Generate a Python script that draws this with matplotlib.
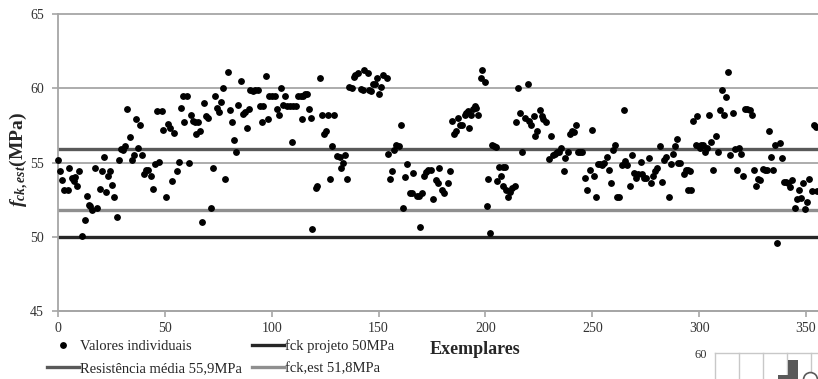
import matplotlib
matplotlib.use("Agg")
import matplotlib.pyplot as plt
from matplotlib.lines import Line2D

plt.rcParams['font.family'] = ['Liberation Serif', 'DejaVu Serif']
plt.rcParams['mathtext.fontset'] = 'custom'
plt.rcParams['mathtext.it'] = 'Liberation Serif:italic:bold'
plt.rcParams['mathtext.rm'] = 'Liberation Serif:bold'
plt.rcParams['mathtext.bf'] = 'Liberation Serif:bold'

# ---------------- data ----------------
exemplar = [
    0.2, 1.1, 2.0, 3.0, 4.5, 5.3, 6.4, 7.2, 7.6, 8.0,
    9.0, 10.0, 11.4, 12.5, 13.4, 14.4, 15.1, 16.1, 17.2, 18.4,
    19.5, 20.6, 21.4, 22.3, 23.2, 24.2, 25.1, 26.4, 27.5, 28.4,
    29.3, 30.3, 31.2, 32.1, 33.5, 34.5, 35.4, 36.4, 37.3, 38.2,
    39.2, 40.1, 41.0, 42.3, 43.4, 44.3, 45.2, 46.2, 47.1, 48.5,
    49.3, 50.4, 51.3, 52.3, 53.2, 54.1, 55.5, 56.5, 57.4, 58.4,
    58.8,
    60.4, 61.1, 62.2, 63.3, 64.3, 64.6, 65.5, 66.3, 67.4, 68.2,
    69.3, 70.2, 71.4, 72.5, 73.3, 74.3, 75.2, 76.1, 77.1, 78.3,
    79.4, 80.5, 81.3, 82.2, 83.1, 84.1, 85.5, 86.4, 87.4, 88.3,
    89.4, 90.0, 91.1, 92.2, 93.4, 94.4, 95.3, 95.9, 97.3, 98.3,
    98.9, 100.2, 101.4, 102.5, 103.3, 104.4, 105.3, 106.2, 107.3, 108.7,
    109.5, 110.0, 111.2, 112.3, 113.6, 114.2, 114.5, 115.8, 116.7, 117.6,
    118.3, 119.0,
    120.6, 121.4, 122.6, 123.5, 124.5, 125.3, 126.3, 127.3, 128.2, 129.0,
    130.7, 131.8, 132.6, 133.5, 134.3, 135.4, 136.3, 137.4, 138.5, 139.1,
    140.5, 142.0, 142.6, 143.2, 144.9, 145.7, 146.6, 147.6, 148.5, 149.4,
    150.2, 151.1, 152.2, 153.8, 154.4, 155.4, 156.5, 157.4, 158.3, 159.6,
    160.7, 161.6, 162.5, 163.5, 164.6, 165.7, 166.3, 167.8, 169.0, 169.6,
    170.5, 171.4, 172.4, 173.3, 174.6, 175.6, 176.7, 177.7, 178.4,
    179.5, 180.5, 182.4, 183.5, 184.4, 185.5, 186.3, 187.2, 188.1, 189.1,
    190.2, 190.9, 191.7, 192.5, 193.4, 194.2, 195.0, 195.8, 196.7, 197.7,
    198.6, 199.7, 200.5, 201.4, 202.3, 203.1, 204.2, 205.0, 205.6, 206.5,
    207.5, 208.1, 208.4, 209.3, 209.8, 210.4, 211.5, 212.5, 213.7, 214.5,
    215.4, 216.4, 217.3, 218.7, 219.8, 220.6, 221.4, 222.5, 223.4, 224.3,
    225.4, 226.5, 227.1, 228.4, 229.6, 230.6, 231.5, 232.4, 233.4, 234.6,
    235.4, 236.7, 237.1,
    238.5, 239.4, 240.4, 241.6, 242.5, 243.5, 244.4, 245.3, 246.4, 247.4,
    248.8, 249.7, 250.7, 251.6, 252.7, 253.5, 254.4, 255.5, 256.7, 257.7,
    258.6, 259.5, 260.5, 261.6, 262.5, 263.8, 264.7, 265.5, 266.4, 267.5,
    268.4, 269.4, 270.6, 271.6, 272.6, 273.4, 274.4, 275.3, 276.5, 277.5,
    278.6, 279.5, 280.3, 281.5, 282.5, 283.4, 284.4, 285.8, 286.7, 287.8,
    288.7, 289.6, 290.3, 291.2, 292.8, 293.7, 294.6, 294.9, 295.6, 296.2,
    297.0,
    298.4, 299.1, 300.4, 301.0, 301.9, 302.7, 303.5, 304.6, 305.5, 306.5,
    307.7, 308.8, 309.7, 310.7, 311.6, 312.5, 313.6, 314.4, 315.7, 316.8,
    317.7, 318.6, 319.6, 320.5, 321.3, 322.5, 323.6, 324.6, 325.7, 326.6,
    327.5, 328.5, 330.0, 331.0, 331.9, 332.7, 333.6, 334.5, 335.5, 336.4,
    337.8, 338.8, 339.7, 340.6, 341.6, 342.5, 343.4, 344.8, 345.6, 346.7,
    347.6, 348.7, 349.5, 350.5, 351.4, 352.8, 353.6, 354.5, 355.1,
]
fck_individual = [
    55.2, 54.4, 53.8, 53.17, 53.17, 54.6, 53.98, 53.9, 53.75, 54.0,
    53.4, 54.45, 50.07, 51.1, 52.77, 52.16, 52.1, 51.8, 54.65, 51.96,
    53.24, 54.45, 55.4, 53.0, 54.07, 54.45, 53.46, 52.7, 51.35, 55.2,
    55.93, 55.84, 56.13, 58.6, 56.7, 55.2, 55.5, 57.93, 55.96, 57.5,
    55.5, 54.2, 54.47, 54.47, 54.07, 53.24, 54.88, 58.5, 55.06, 58.5,
    57.17, 52.7, 57.57, 57.3, 53.78, 56.97, 54.45, 55.06, 58.65, 59.45,
    57.7,
    59.45, 55.0, 58.18, 57.8, 57.7, 56.94, 57.7, 57.1, 50.97, 58.98,
    58.16, 58.0, 51.96, 54.6, 59.46, 58.7, 58.4, 59.07, 60.0, 53.87,
    61.1, 58.54, 57.7, 56.5, 55.7, 58.87, 60.49, 58.27, 58.4, 57.3,
    58.6, 59.9, 59.84, 59.9, 59.86, 58.8, 57.7, 58.8, 60.83, 57.93,
    59.46, 59.46, 59.46, 58.6, 58.18, 60.0, 58.85, 59.46, 58.8, 58.8,
    56.36, 58.8, 58.8, 59.46, 59.46, 57.93, 59.46, 59.59, 59.64, 58.6,
    58.0, 50.5,
    53.26, 53.44, 60.69, 58.18, 56.9, 57.1, 58.18, 53.87, 56.09, 58.18,
    55.46, 55.35, 54.6, 55.0, 55.5, 53.87, 60.08, 60.02, 60.76, 60.87,
    61.03, 59.97, 59.86, 61.23, 61.03, 59.9, 59.8, 60.26, 60.26, 60.67,
    59.6, 60.06, 60.87, 60.67, 55.6, 53.87, 54.4, 55.87, 56.16, 56.09,
    57.5, 51.96, 54.05, 54.88, 52.93, 52.93, 54.27, 52.75, 52.75, 50.68,
    52.93, 54.07, 54.34, 54.47, 54.47, 52.52, 53.82, 53.64, 54.65,
    53.15, 52.93, 53.6, 54.45, 57.77, 56.9, 57.1, 58.0, 57.5, 57.5,
    58.2, 58.3, 58.45, 57.3, 58.18, 58.6, 58.83, 58.7, 58.2, 60.7,
    61.23, 60.4, 52.1, 53.87, 50.28, 56.16, 56.09, 56.07, 53.78, 54.67,
    54.07, 54.67, 53.44, 54.67, 53.15, 52.7, 53.03, 53.26, 53.4, 57.7,
    60.0, 58.3, 55.7, 58.0, 60.26, 57.8, 57.53, 58.1, 56.79, 57.1,
    58.54, 58.1, 57.93, 57.7, 55.24, 56.79, 55.5, 55.6, 55.7, 55.7,
    55.96, 54.4, 55.28,
    55.7, 56.94, 57.1, 57.08, 57.5, 55.73, 55.7, 55.73, 53.98, 53.17,
    54.47, 57.17, 54.07, 52.7, 54.88, 54.88, 54.8, 55.0, 55.4, 54.47,
    53.6, 55.87, 56.16, 52.7, 52.7, 54.81, 58.51, 55.08, 54.81, 53.4,
    55.48, 54.27, 53.98, 54.2, 55.06, 54.2, 53.98, 53.98, 55.28, 53.64,
    54.07, 54.4, 54.6, 56.13, 53.67, 55.2, 55.4, 52.7, 54.88, 55.6,
    56.13, 56.56, 55.0, 55.0, 54.2, 54.47, 54.47, 53.17, 54.4, 53.17,
    57.8,
    56.16, 58.1, 55.96, 56.16, 56.18, 55.7, 55.96, 58.18, 56.36, 54.47,
    56.79, 55.7, 58.54, 59.9, 58.2, 59.39, 61.1, 55.5, 58.3, 55.89,
    54.47, 55.96, 55.6, 54.07, 58.6, 58.6, 58.54, 58.2, 54.47, 53.44,
    53.87, 53.82, 54.58, 54.47, 54.47, 57.1, 55.4, 54.47, 56.16, 49.58,
    56.29, 55.28, 53.67, 53.67, 53.6, 53.37, 53.8, 51.96, 52.52, 53.17,
    52.59, 53.6, 51.9, 52.36, 53.87, 53.1, 57.5, 57.37, 53.1,
]
assert len(exemplar) == len(fck_individual)

fck_projeto = 50.0
resistencia_media = 55.9
fck_est = 51.8

x_ticks = [0, 50, 100, 150, 200, 250, 300, 350]
y_ticks = [45, 50, 55, 60, 65]
x_max = 355.6

legend_labels = ["Valores individuais", "Resistência média 55,9MPa",
                 "fck projeto 50MPa", "fck,est 51,8MPa"]

# inset fragment (partial histogram visible at bottom right)
inset_x = [2.83, 3.25]
inset_h = [43.1, 54.6]

# ---------------- figure ----------------
W, H = 818, 379
fig = plt.figure(figsize=(W / 100, H / 100), dpi=100)
ax = fig.add_axes([58 / W, 68 / H, 760 / W, 297 / H])

grid_c = '#a6a6a6'
txt_c = '#333333'

ax.set_xlim(0, x_max)
ax.set_ylim(45, 65)
ax.set_xticks(x_ticks)
ax.set_yticks(y_ticks)
ax.grid(axis='y', color=grid_c, lw=1.3, zorder=0)
for gl in ax.get_ygridlines():
    gl.set_clip_on(False)
ax.set_axisbelow(True)
for s in ['top', 'right']:
    ax.spines[s].set_visible(False)
for s in ['left', 'bottom']:
    ax.spines[s].set_color(grid_c)
    ax.spines[s].set_linewidth(1.3)
ax.tick_params(axis='both', direction='out', length=4, width=1.2,
               color=grid_c, labelcolor=txt_c, labelsize=10)
ax.tick_params(axis='y', pad=6)
ax.tick_params(axis='x', pad=4)

ax.axhline(fck_projeto, color='#262626', lw=2.4, zorder=2)
ax.axhline(resistencia_media, color='#595959', lw=2.4, zorder=2)
ax.axhline(fck_est, color='#8f8f8f', lw=2.4, zorder=2)

ax.plot(exemplar, fck_individual, 'o', color='black', ms=3.9, ls='none',
        zorder=5, clip_on=False)

fig.text(475 / W, 1 - 349 / H, "Exemplares", ha='center', va='center',
         fontsize=13, fontweight='bold', color='#262626')
fig.text(19 / W, 1 - 160 / H, r"$f_{ck,est}$(MPa)", rotation=90,
         ha='center', va='center', fontsize=14, fontweight='bold',
         color='#262626')

handles = [
    Line2D([], [], marker='o', color='black', ms=3.9, ls='none'),
    Line2D([], [], color='#595959', lw=2.4),
    Line2D([], [], color='#262626', lw=2.4),
    Line2D([], [], color='#8f8f8f', lw=2.4),
]
fig.legend(handles, legend_labels, ncol=2, loc='upper left',
           bbox_to_anchor=(47 / W, 1 - 339 / H), frameon=False,
           borderpad=0, borderaxespad=0, handlelength=2.2,
           handletextpad=0.05, columnspacing=0.7, labelspacing=0.62,
           fontsize=10.5, labelcolor='#262626')

# inset fragment
ax2 = fig.add_axes([715 / W, 0, 103 / W, 26 / H])
ax2.set_xlim(0, 103 / 24)
ax2.set_ylim(40, 60)
ax2.set_xticks([0, 1, 2, 3, 4])
ax2.set_yticks([60])
ax2.set_yticklabels(["60"])
ax2.grid(True, color='#c8c8c8', lw=1.0)
for gl in ax2.get_xgridlines() + ax2.get_ygridlines():
    gl.set_clip_on(False)
ax2.set_axisbelow(True)
for s in ax2.spines.values():
    s.set_visible(False)
ax2.tick_params(axis='x', length=0, labelbottom=False)
ax2.tick_params(axis='y', length=0, labelsize=9, labelcolor=txt_c, pad=6)
ax2.bar(inset_x, inset_h, width=0.42, color='#595959', zorder=3)
ax2.plot([3.96], [40], 'o', ms=10, mfc='white', mec='#595959', mew=1.2,
         zorder=4)
ax2.patch.set_alpha(0)

fig.savefig("out.png", dpi=100)
